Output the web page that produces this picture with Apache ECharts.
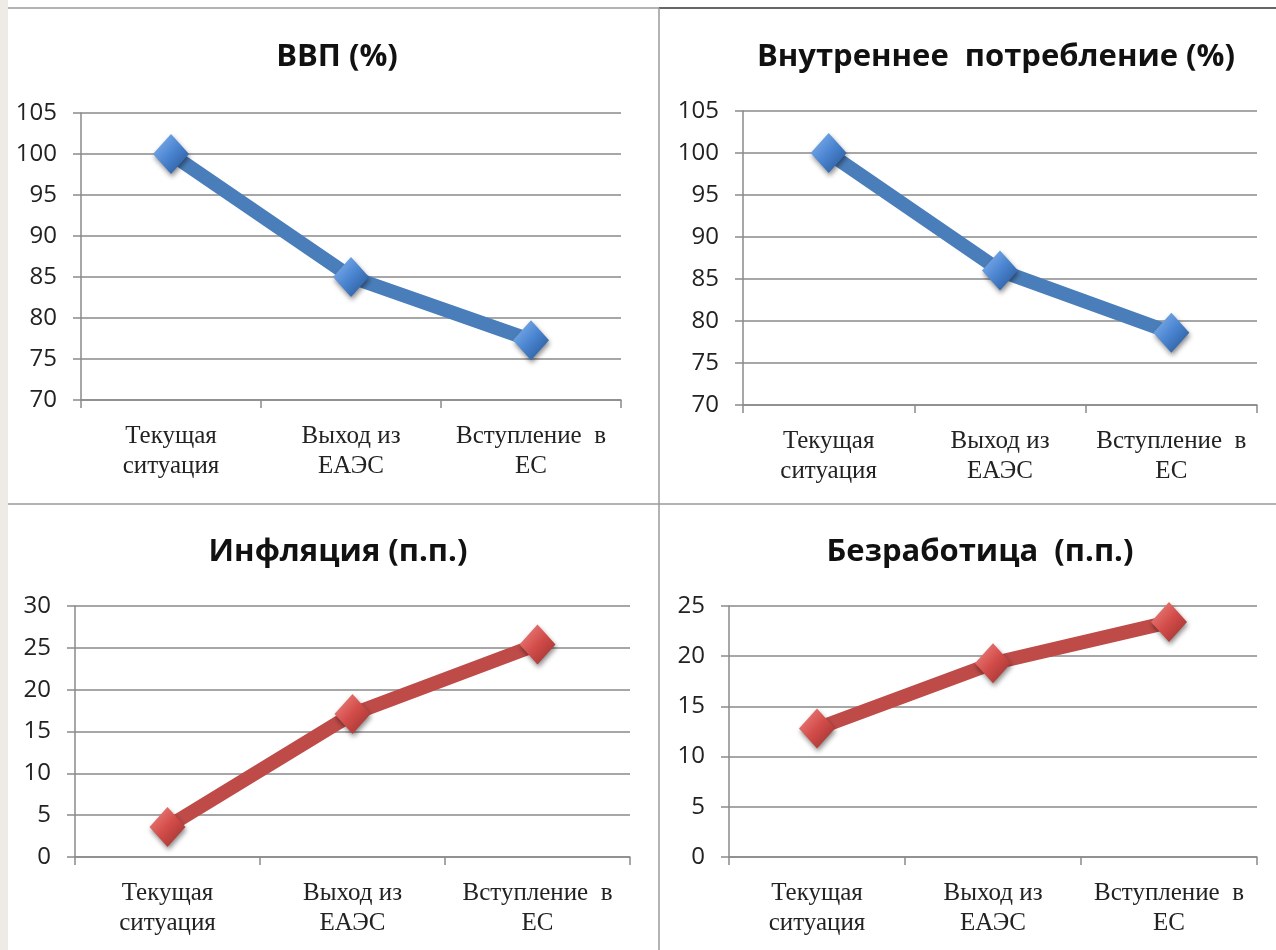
<!DOCTYPE html>
<html>
<head>
<meta charset="utf-8">
<script src="https://cdn.jsdelivr.net/npm/echarts@6/dist/echarts.min.js"></script>
<style>
html,body{margin:0;padding:0;background:#fff;}
#c{width:1276px;height:950px;}
</style>
</head>
<body>
<div id="c"></div>
<script>
// ---- data ----
const categories = ['Текущая\nситуация', 'Выход из\nЕАЭС', 'Вступление  в\nЕС'];
const titles = ['ВВП (%)', 'Внутреннее  потребление (%)', 'Инфляция (п.п.)', 'Безработица  (п.п.)'];
const gdp = [100, 85, 77.3];
const consumption = [100, 86, 78.6];
const inflation = [3.6, 17.1, 25.4];
const unemployment = [12.8, 19.3, 23.4];
const yMin = [70, 70, 0, 0];
const yMax = [105, 105, 30, 25];
const yStep = [5, 5, 5, 5];

// ---- layout ----
const grids = [
  {left: 81, top: 113, width: 540, height: 287},
  {left: 743, top: 111, width: 514, height: 294},
  {left: 75, top: 606, width: 555, height: 251},
  {left: 729, top: 606, width: 528, height: 251}
];
const titlePos = [
  {x: 332, y: 37},
  {x: 991, y: 37},
  {x: 333, y: 532},
  {x: 975, y: 532}
];
const seriesData = [gdp, consumption, inflation, unemployment];
const isBlue = [true, true, false, false];
const gridColor = '#8a8a8a';

const chart = echarts.init(document.getElementById('c'));
const option = {
  backgroundColor: '#ffffff',
  animation: false,
  title: titles.map((t, i) => ({
    text: t,
    left: titlePos[i].x,
    top: titlePos[i].y,
    textAlign: 'center',
    textStyle: {fontFamily: 'Open Sans', fontWeight: 'bold', fontSize: 31, color: '#111'}
  })),
  grid: grids.map(g => Object.assign({containLabel: false}, g)),
  xAxis: grids.map((g, i) => ({
    type: 'category',
    gridIndex: i,
    data: categories,
    boundaryGap: true,
    axisLine: {lineStyle: {color: gridColor, width: 1.5}},
    axisTick: {show: true, length: 8, alignWithLabel: false, lineStyle: {color: gridColor, width: 1.5}},
    axisLabel: {
      interval: 0, margin: 21, color: '#222',
      fontFamily: 'Liberation Serif', fontSize: 25, lineHeight: 30
    }
  })),
  yAxis: grids.map((g, i) => ({
    type: 'value',
    gridIndex: i,
    min: yMin[i], max: yMax[i], interval: yStep[i],
    axisLine: {show: true, lineStyle: {color: gridColor, width: 1.5}},
    axisTick: {show: true, length: 8, lineStyle: {color: gridColor, width: 1.5}},
    splitLine: {show: true, lineStyle: {color: gridColor, width: 1.5}},
    axisLabel: {margin: 24, color: '#222', fontFamily: 'Open Sans', fontSize: 24}
  })),
  series: seriesData.map((d, i) => {
    const blue = isBlue[i];
    return {
      type: 'line',
      xAxisIndex: i, yAxisIndex: i,
      data: d,
      symbol: 'diamond',
      symbolSize: [36, 40],
      lineStyle: {color: blue ? '#4a7ebb' : '#be4b48', width: 14},
      itemStyle: {
        color: new echarts.graphic.LinearGradient(0, 0, 1, 1, blue ? [
          {offset: 0, color: '#8ab8f0'},
          {offset: 0.5, color: '#4a84d0'},
          {offset: 1, color: '#24528f'}
        ] : [
          {offset: 0, color: '#f08a88'},
          {offset: 0.5, color: '#d24c49'},
          {offset: 1, color: '#95302d'}
        ]),
        borderWidth: 0,
        shadowColor: 'rgba(0,0,0,0.45)',
        shadowBlur: 5,
        shadowOffsetX: 1,
        shadowOffsetY: 3
      },
      z: 3
    };
  }),
  graphic: [
    {type: 'rect', shape: {x: 0, y: 0, width: 8, height: 950}, style: {fill: '#eeebe6'}, silent: true},
    {type: 'line', shape: {x1: 8, y1: 8, x2: 659, y2: 8}, style: {stroke: '#9a9a9a', lineWidth: 1.5}},
    {type: 'line', shape: {x1: 659, y1: 8, x2: 1276, y2: 8}, style: {stroke: '#333', lineWidth: 1.5}},
    {type: 'line', shape: {x1: 659, y1: 8, x2: 659, y2: 950}, style: {stroke: '#9a9a9a', lineWidth: 1.5}},
    {type: 'line', shape: {x1: 8, y1: 504, x2: 1276, y2: 504}, style: {stroke: '#9a9a9a', lineWidth: 1.5}}
  ]
};
chart.setOption(option);
</script>
</body>
</html>
